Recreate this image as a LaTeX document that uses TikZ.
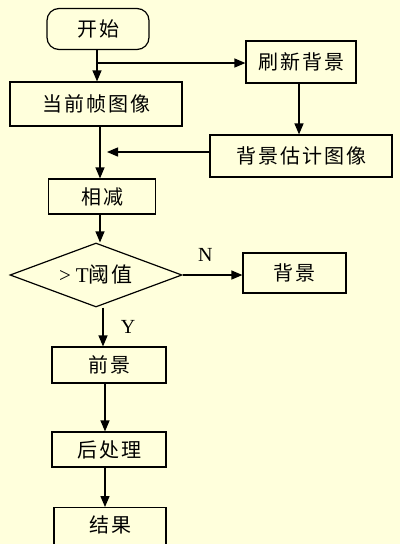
\documentclass[tikz,border=0pt]{standalone}
\usepackage{fontspec}
\setmainfont{Liberation Serif}
\newfontfamily\cjk[LetterSpace=10]{Noto Sans CJK SC}
\usetikzlibrary{arrows.meta,shapes.geometric}
\definecolor{bgyellow}{RGB}{255,255,220}
\tikzset{
  box/.style={draw, line width=1.2pt, inner sep=0pt, font=\cjk\fontsize{20}{20}\selectfont},
  arr/.style={line width=1.3pt, -{Triangle[width=9pt,length=11pt]}},
  lbl/.style={font=\fontsize{20}{20}\selectfont}
}
\begin{document}
\begin{tikzpicture}[x=1pt,y=-1pt]
\fill[bgyellow] (0,0) rectangle (400,544);
\useasboundingbox (0,0) rectangle (400,544);
\clip (0,0) rectangle (400,544);
\node[box, rounded corners=12pt, minimum width=102pt, minimum height=41pt] (start) at (98,29) {开始};
\node[box, minimum width=172pt, minimum height=44pt] (cur) at (96,104) {当前帧图像};
\node[box, minimum width=110pt, minimum height=42pt] (refresh) at (301,62) {刷新背景};
\node[box, minimum width=182pt, minimum height=42pt] (est) at (301,156) {背景估计图像};
\node[box, minimum width=107pt, minimum height=35pt] (sub) at (102,196.5) {相减};
\node[box, diamond, minimum width=172pt, minimum height=64pt, font=\fontsize{21}{21}\selectfont] (dec) at (96,275) {\makebox[0pt]{\smash{\raisebox{-7pt}{>\hspace{5pt}T{\cjk 阈值}}}}};
\node[box, minimum width=103pt, minimum height=40pt] (bg) at (294.5,273) {背景};
\node[box, minimum width=114pt, minimum height=36pt] (fg) at (109,365) {前景};
\node[box, minimum width=114pt, minimum height=35pt] (post) at (109,449.5) {后处理};
\node[box, minimum width=112pt, minimum height=60pt, text depth=27pt, anchor=north] (res) at (110,507) {结果};
\coordinate (br) at (97,63);
\coordinate (tip) at (107,152);
\coordinate (vx) at (100,0);
\coordinate (vy) at (103,0);
\coordinate (vz) at (105,0);
\draw[arr] (start.south -| br) -- (cur.north -| br);
\draw[arr] (br) -- (refresh.west |- br);
\draw[arr] (refresh.south -| 299,0) -- (est.north -| 299,0);
\draw[arr] (est.west |- tip) -- (tip);
\draw[arr] (cur.south -| vx) -- (sub.north -| vx);
\draw[arr] (sub.south -| vx) -- (dec.north -| vx);
\draw[arr] (dec.east) -- (bg.west |- dec.east) node[lbl, pos=0.38, above=10pt] (nlab) {N};
\draw[arr] (dec.south -| vy) -- (fg.north -| vy) node[lbl, pos=0.5, right=14pt] (ylab) {Y};
\draw[arr] (fg.south -| vz) -- (post.north -| vz);
\draw[arr] (post.south -| vz) -- (res.north -| vz);
\end{tikzpicture}
\end{document}
